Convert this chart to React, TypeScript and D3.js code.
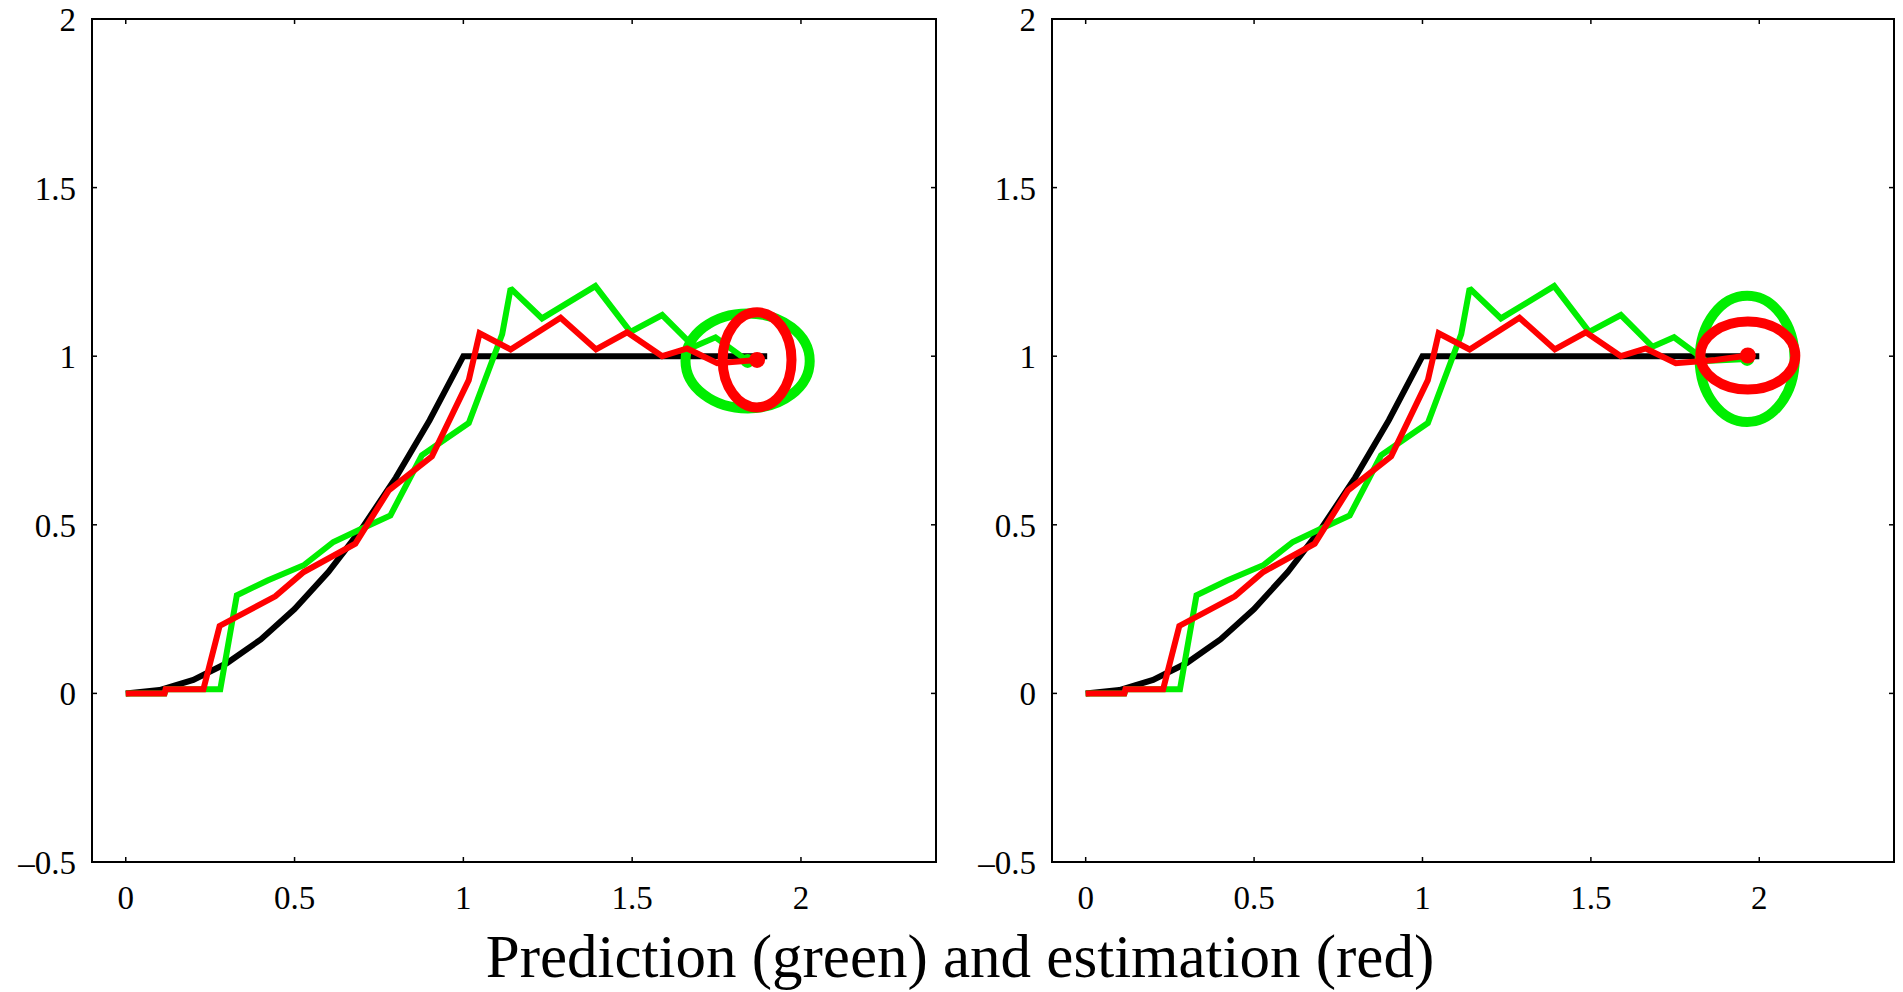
import React, { useEffect, useRef } from 'react';
import * as d3 from 'd3';

// true path (black)
const trueX = [0, 0.1, 0.2, 0.3, 0.4, 0.5, 0.6, 0.7, 0.8, 0.9, 1.0, 1.1, 1.2, 1.3, 1.4, 1.5, 1.6, 1.7, 1.8, 1.9, 2.0];
const trueY = [0, 0.01, 0.04, 0.09, 0.16, 0.25, 0.36, 0.49, 0.64, 0.81, 1, 1, 1, 1, 1, 1, 1, 1, 1, 1, 1];

// prediction (green)
const predX = [0, 0.115, 0.12, 0.28, 0.329, 0.42, 0.527, 0.615, 0.7, 0.784, 0.877, 1.016, 1.115, 1.14, 1.233, 1.391, 1.495, 1.589, 1.683, 1.747, 1.842, 1.964];
const predY = [0, 0, 0.012, 0.012, 0.291, 0.335, 0.38, 0.449, 0.489, 0.528, 0.706, 0.802, 1.065, 1.201, 1.112, 1.208, 1.072, 1.122, 1.028, 1.056, 0.986, 0.992];

// estimation (red)
const estX = [0, 0.115, 0.118, 0.23, 0.278, 0.443, 0.527, 0.68, 0.779, 0.907, 1.016, 1.048, 1.14, 1.288, 1.393, 1.485, 1.589, 1.663, 1.752, 1.87, 1.966];
const estY = [0, 0, 0.012, 0.012, 0.2, 0.288, 0.36, 0.444, 0.602, 0.703, 0.929, 1.068, 1.02, 1.114, 1.02, 1.071, 1.0, 1.023, 0.979, 0.989, 1.002];

// how many points each panel shows: [true, prediction, estimation]
const panelCounts = [[20, 21, 20], [21, 22, 21]];
// covariance ellipse half-axes per panel: [green rx, green ry, red rx, red ry]
const panelEllipses = [[0.184, 0.141, 0.102, 0.141], [0.141, 0.187, 0.141, 0.101]];

const xTicks = [0, 0.5, 1, 1.5, 2];
const yTicks = [-0.5, 0, 0.5, 1, 1.5, 2];
const title = 'Prediction (green) and estimation (red)';

const fmt = (v: number) => (v < 0 ? '\u2013' + String(-v) : String(v));
const serif = "'Liberation Serif', 'Times New Roman', Times, 'DejaVu Serif', serif";

export default function App() {
  const ref = useRef<SVGSVGElement>(null);

  useEffect(() => {
    const svg = d3.select(ref.current);
    svg.selectAll('*').remove();

    const panels = [
      { left: 92, right: 936 },
      { left: 1052, right: 1894 },
    ];
    const top = 19, bottom = 862;
    const tick = 5;

    panels.forEach((p, i) => {
      const x = d3.scaleLinear().domain([-0.1, 2.4]).range([p.left, p.right]);
      const y = d3.scaleLinear().domain([-0.5, 2]).range([bottom, top]);
      const g = svg.append('g');
      const [nT, nP, nE] = panelCounts[i];
      const [gRx, gRy, rRx, rRy] = panelEllipses[i];

      const line = d3.line<[number, number]>().x(d => x(d[0])).y(d => y(d[1]));
      const pts = (xs: number[], ys: number[], n: number) =>
        xs.slice(0, n).map((v, k) => [v, ys[k]] as [number, number]);

      const drawPath = (data: [number, number][], col: string) =>
        g.append('path')
          .attr('d', line(data))
          .attr('fill', 'none')
          .attr('stroke', col)
          .attr('stroke-width', 6)
          .attr('stroke-linejoin', 'miter')
          .attr('stroke-miterlimit', 2);

      drawPath(pts(trueX, trueY, nT), '#000');

      // prediction
      const gx = predX[nP - 1], gy = predY[nP - 1];
      drawPath(pts(predX, predY, nP), '#00ee00');
      g.append('ellipse')
        .attr('cx', x(gx)).attr('cy', y(gy))
        .attr('rx', x(gx + gRx) - x(gx)).attr('ry', y(gy) - y(gy + gRy))
        .attr('fill', 'none').attr('stroke', '#00ee00').attr('stroke-width', 10);
      g.append('circle').attr('cx', x(gx)).attr('cy', y(gy)).attr('r', 7).attr('fill', '#00ee00');

      // estimation
      const ex = estX[nE - 1], ey = estY[nE - 1];
      drawPath(pts(estX, estY, nE), '#ff0000');
      g.append('ellipse')
        .attr('cx', x(ex)).attr('cy', y(ey))
        .attr('rx', x(ex + rRx) - x(ex)).attr('ry', y(ey) - y(ey + rRy))
        .attr('fill', 'none').attr('stroke', '#ff0000').attr('stroke-width', 10);
      g.append('circle').attr('cx', x(ex)).attr('cy', y(ey)).attr('r', 8).attr('fill', '#ff0000');

      // frame
      g.append('rect')
        .attr('x', p.left).attr('y', top)
        .attr('width', p.right - p.left).attr('height', bottom - top)
        .attr('fill', 'none').attr('stroke', '#000').attr('stroke-width', 2);

      // ticks (inward, all four sides)
      xTicks.forEach(t => {
        g.append('line').attr('x1', x(t)).attr('x2', x(t)).attr('y1', bottom).attr('y2', bottom - tick)
          .attr('stroke', '#000').attr('stroke-width', 1.5);
        g.append('line').attr('x1', x(t)).attr('x2', x(t)).attr('y1', top).attr('y2', top + tick)
          .attr('stroke', '#000').attr('stroke-width', 1.5);
        g.append('text').attr('x', x(t)).attr('y', bottom + 47)
          .attr('text-anchor', 'middle')
          .style('font-family', serif)
          .attr('font-size', 33)
          .text(fmt(t));
      });
      yTicks.forEach(t => {
        g.append('line').attr('x1', p.left).attr('x2', p.left + tick).attr('y1', y(t)).attr('y2', y(t))
          .attr('stroke', '#000').attr('stroke-width', 1.5);
        g.append('line').attr('x1', p.right).attr('x2', p.right - tick).attr('y1', y(t)).attr('y2', y(t))
          .attr('stroke', '#000').attr('stroke-width', 1.5);
        g.append('text').attr('x', p.left - 16).attr('y', y(t) + 12)
          .attr('text-anchor', 'end')
          .style('font-family', serif)
          .attr('font-size', 33)
          .text(fmt(t));
      });
    });

    svg.append('text')
      .attr('x', 960).attr('y', 977)
      .attr('text-anchor', 'middle')
      .style('font-family', serif)
      .attr('font-size', 61)
      .text(title);
  }, []);

  return (
    <svg
      ref={ref}
      width={1903}
      height={992}
      style={{ position: 'absolute', left: 0, top: 0, background: '#fff' }}
    />
  );
}
